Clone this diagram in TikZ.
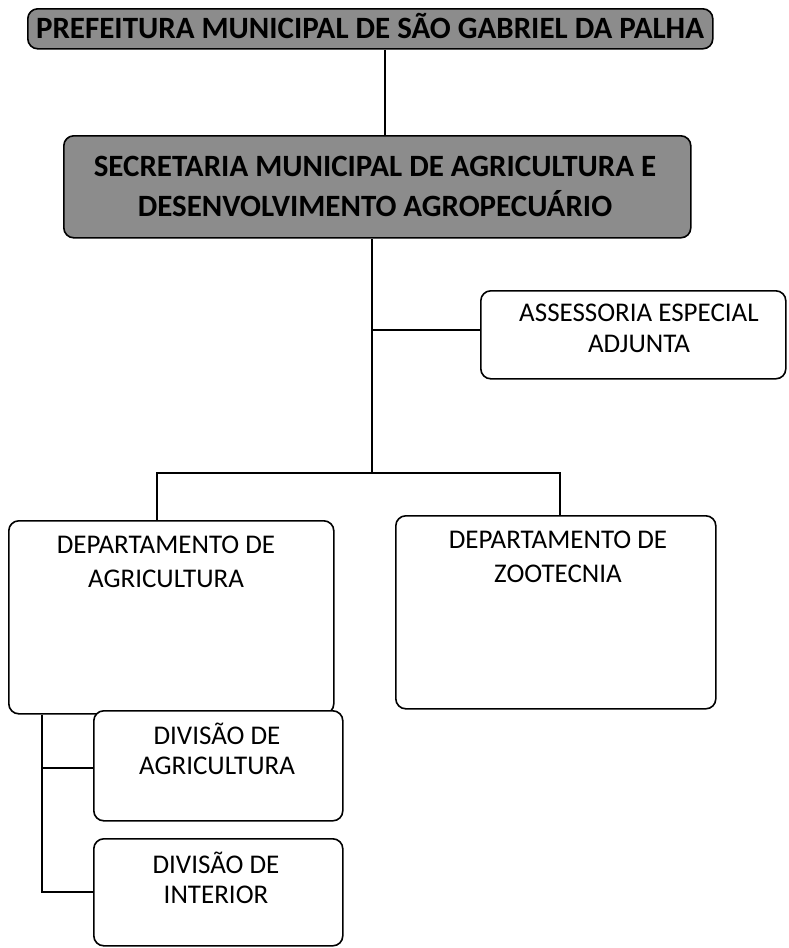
\documentclass[tikz,border=0pt]{standalone}
\usepackage{fontspec}
\setmainfont{Carlito}
\begin{document}
\begin{tikzpicture}[x=1pt,y=-1pt,
  box/.style={draw=black,line width=1.6pt,rounded corners=10pt,fill=white},
  graybox/.style={draw=black,line width=1.6pt,rounded corners=10pt,fill=black!45},
  lbl/.style={font=\fontsize{27}{32}\selectfont,anchor=base,inner sep=0pt,text=black},
  glbl/.style={font=\fontsize{31}{40}\selectfont\bfseries,anchor=base,inner sep=0pt,text=black},
  conn/.style={line width=1.4pt}]
\useasboundingbox (0,0) rectangle (788,948);
% boxes
\node[graybox,minimum width=685pt,minimum height=40pt,anchor=north west] (pref) at (27,8) {};
\node[glbl] (pref1) at (370,38) {PREFEITURA MUNICIPAL DE SÃO GABRIEL DA PALHA};
\node[graybox,minimum width=627pt,minimum height=102pt,anchor=north west] (sec) at (63,135) {};
\node[glbl] (sec1) at (375,176) {SECRETARIA MUNICIPAL DE AGRICULTURA E};
\node[glbl] (sec2) at (375,216) {DESENVOLVIMENTO AGROPECUÁRIO};
\node[box,minimum width=305pt,minimum height=88pt,anchor=north west] (ass) at (480,290) {};
\node[lbl] (ass1) at (639,321) {ASSESSORIA ESPECIAL};
\node[lbl] (ass2) at (639,352) {ADJUNTA};
\node[box,minimum width=325pt,minimum height=193pt,anchor=north west] (dagr) at (8,520) {};
\node[lbl] (dagr1) at (166,553) {DEPARTAMENTO DE};
\node[lbl] (dagr2) at (166,587) {AGRICULTURA};
\node[box,minimum width=320pt,minimum height=193pt,anchor=north west] (dzoo) at (395,515) {};
\node[lbl] (dzoo1) at (558,548) {DEPARTAMENTO DE};
\node[lbl] (dzoo2) at (558,582) {ZOOTECNIA};
\node[box,minimum width=249pt,minimum height=110pt,anchor=north west] (div1) at (93,710) {};
\node[lbl] (div11) at (217,744) {DIVISÃO DE};
\node[lbl] (div12) at (217,774) {AGRICULTURA};
\node[box,minimum width=249pt,minimum height=107pt,anchor=north west] (div2) at (93,838) {};
\node[lbl] (div21) at (216,873) {DIVISÃO DE};
\node[lbl] (div22) at (216,903) {INTERIOR};
% connectors
\coordinate (t1) at (385,0);
\draw[conn] (pref.south -| t1) -- (sec.north -| t1);
\coordinate (v) at (372,0);
\coordinate (hb) at (0,473);
\coordinate (ha) at (0,330);
\coordinate (la) at (157,0);
\coordinate (lz) at (560,0);
\draw[conn] (sec.south -| v) -- (v |- hb);
\draw[conn] (v |- ha) -- (ass.west |- ha);
\draw[conn] (la |- dagr.north) -- (la |- hb) -- (lz |- hb) -- (lz |- dzoo.north);
\coordinate (vl) at (42,0);
\coordinate (b2) at (0,892);
\coordinate (b1) at (0,768);
\draw[conn] (dagr.south -| vl) -- (vl |- b2) -- (div2.west |- b2);
\draw[conn] (vl |- b1) -- (div1.west |- b1);
\end{tikzpicture}
\end{document}
